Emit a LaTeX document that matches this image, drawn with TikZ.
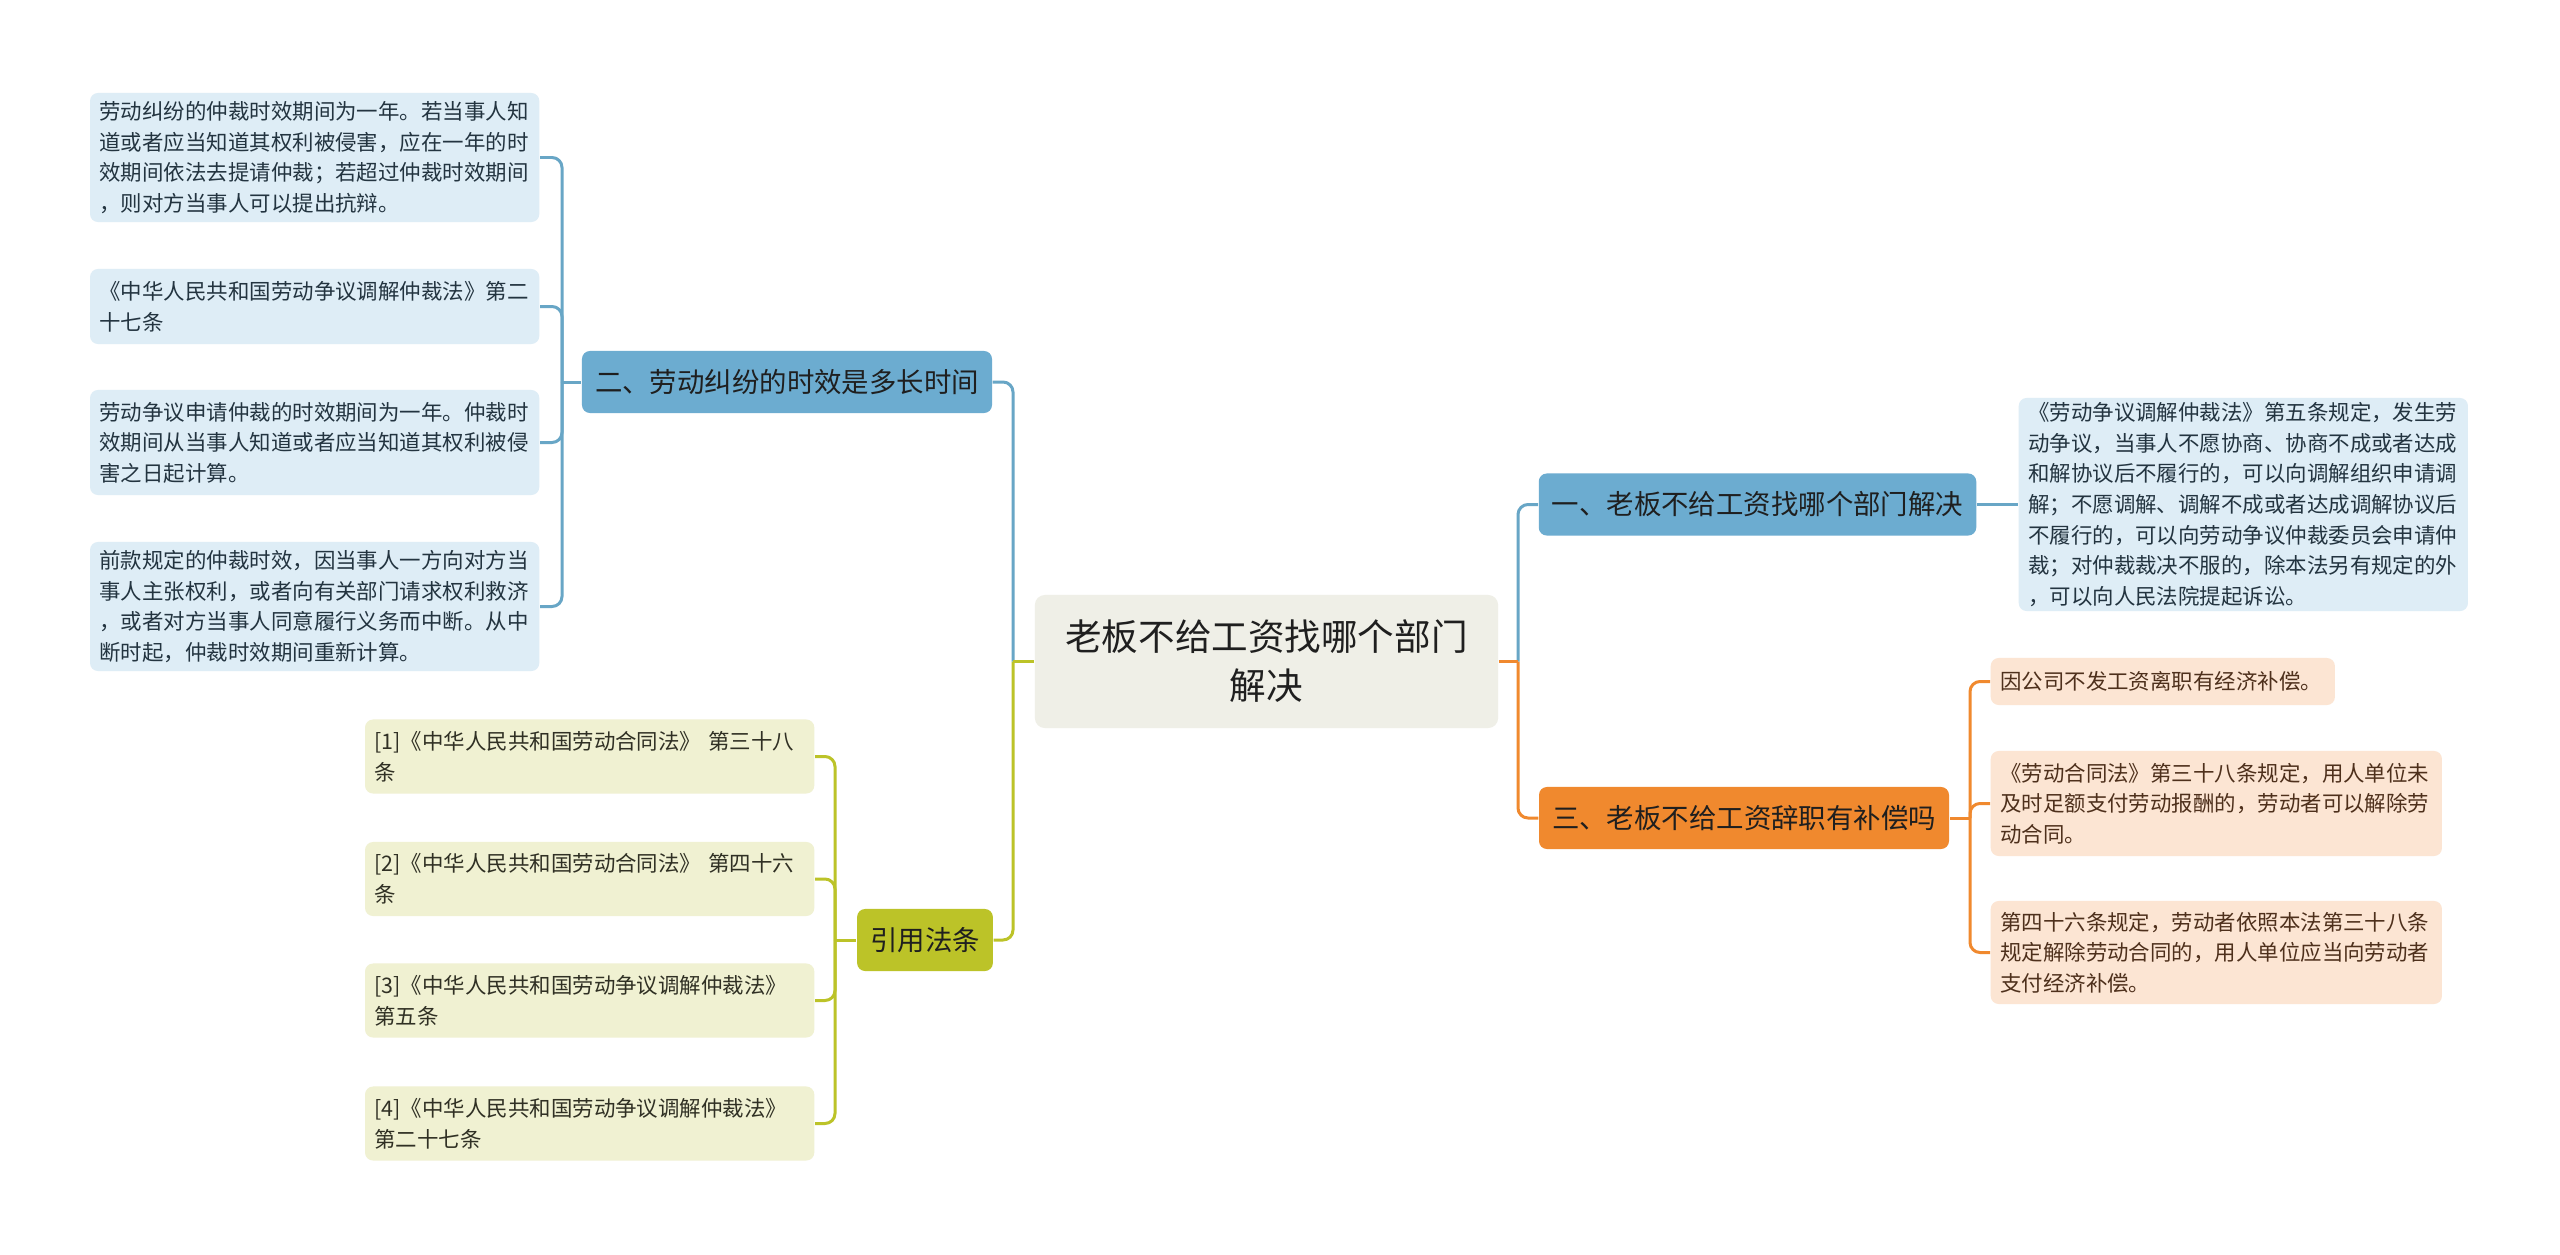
\documentclass[tikz,border=0pt]{standalone}
\usepackage{fontspec}
\setmainfont{Noto Sans CJK SC}
\usetikzlibrary{positioning}
\definecolor{mmroot}{RGB}{239,239,231}
\definecolor{mmblue}{RGB}{108,172,208}
\definecolor{mmblueline}{RGB}{104,166,198}
\definecolor{mmbluelt}{RGB}{222,237,246}
\definecolor{mmbluetx}{RGB}{35,52,64}
\definecolor{mmgreen}{RGB}{188,195,40}
\definecolor{mmgreenlt}{RGB}{240,241,210}
\definecolor{mmgreentx}{RGB}{48,48,36}
\definecolor{mmorange}{RGB}{240,137,46}
\definecolor{mmorangelt}{RGB}{252,229,211}
\definecolor{mmorangetx}{RGB}{78,48,28}

\begin{document}
\begin{tikzpicture}[x=0.01cm,y=-0.01cm,
    root/.style={fill=mmroot,rounded corners=0.1cm,align=center,text=black!88,
      font=\fontsize{10.4}{13.9}\selectfont,minimum width=4.63cm,minimum height=1.33cm},
    br/.style={rounded corners=0.08cm,text=black!88,font=\fontsize{7.8}{9}\selectfont,
      minimum height=0.62cm,inner xsep=0.13cm,inner ysep=0},
    leaf/.style={rounded corners=0.08cm,align=left,font=\fontsize{6.1}{8.7}\selectfont,
      text width=4.3cm,inner xsep=0.095cm,inner ysep=0},
    ln/.style={line width=0.85pt,rounded corners=0.1cm}]
  \path[use as bounding box,fill=white] (0,0) rectangle (2560,1254);

  % centre
  \node[root] (root) at (1266.5,661.5) {老板不给工资找哪个部门\\解决};

  % left: time limits
  \node[br,fill=mmblue] (time) at (787,382) {二、劳动纠纷的时效是多长时间};
  \node[leaf,fill=mmbluelt,text=mmbluetx,anchor=east,minimum height=1.29cm] (t1) at (540,157.5)
    {劳动纠纷的仲裁时效期间为一年。若当事人知\\道或者应当知道其权利被侵害，应在一年的时\\效期间依法去提请仲裁；若超过仲裁时效期间\\，则对方当事人可以提出抗辩。};
  \node[leaf,fill=mmbluelt,text=mmbluetx,anchor=east,minimum height=0.75cm] (t2) at (540,306.5)
    {《中华人民共和国劳动争议调解仲裁法》第二\\十七条};
  \node[leaf,fill=mmbluelt,text=mmbluetx,anchor=east,minimum height=1.05cm] (t3) at (540,442.5)
    {劳动争议申请仲裁的时效期间为一年。仲裁时\\效期间从当事人知道或者应当知道其权利被侵\\害之日起计算。};
  \node[leaf,fill=mmbluelt,text=mmbluetx,anchor=east,minimum height=1.29cm] (t4) at (540,606.5)
    {前款规定的仲裁时效，因当事人一方向对方当\\事人主张权利，或者向有关部门请求权利救济\\，或者对方当事人同意履行义务而中断。从中\\断时起，仲裁时效期间重新计算。};

  % left: cited articles
  \node[br,fill=mmgreen] (cite) at (925,940) {引用法条};
  \node[leaf,fill=mmgreenlt,text=mmgreentx,anchor=east,minimum height=0.74cm] (c1) at (815,756.5)
    {[1]《中华人民共和国劳动合同法》 第三十八\\条};
  \node[leaf,fill=mmgreenlt,text=mmgreentx,anchor=east,minimum height=0.74cm] (c2) at (815,879)
    {[2]《中华人民共和国劳动合同法》 第四十六\\条};
  \node[leaf,fill=mmgreenlt,text=mmgreentx,anchor=east,minimum height=0.74cm] (c3) at (815,1000.5)
    {[3]《中华人民共和国劳动争议调解仲裁法》\\第五条};
  \node[leaf,fill=mmgreenlt,text=mmgreentx,anchor=east,minimum height=0.74cm] (c4) at (815,1123.5)
    {[4]《中华人民共和国劳动争议调解仲裁法》\\第二十七条};

  % right: which department
  \node[br,fill=mmblue] (dept) at (1757.5,504.5) {一、老板不给工资找哪个部门解决};
  \node[leaf,fill=mmbluelt,text=mmbluetx,anchor=west,minimum height=2.13cm] (d1) at (2018,504.5)
    {《劳动争议调解仲裁法》第五条规定，发生劳\\动争议，当事人不愿协商、协商不成或者达成\\和解协议后不履行的，可以向调解组织申请调\\解；不愿调解、调解不成或者达成调解协议后\\不履行的，可以向劳动争议仲裁委员会申请仲\\裁；对仲裁裁决不服的，除本法另有规定的外\\，可以向人民法院提起诉讼。};

  % right: compensation
  \node[br,fill=mmorange] (comp) at (1744,818) {三、老板不给工资辞职有补偿吗};
  \node[leaf,fill=mmorangelt,text=mmorangetx,anchor=west,text width=3.25cm,minimum height=0.47cm] (o1) at (1990,681.5)
    {因公司不发工资离职有经济补偿。};
  \node[leaf,fill=mmorangelt,text=mmorangetx,anchor=west,text width=4.32cm,minimum height=1.05cm] (o2) at (1990,803.5)
    {《劳动合同法》第三十八条规定，用人单位未\\及时足额支付劳动报酬的，劳动者可以解除劳\\动合同。};
  \node[leaf,fill=mmorangelt,text=mmorangetx,anchor=west,text width=4.32cm,minimum height=1.03cm] (o3) at (1990,952.5)
    {第四十六条规定，劳动者依照本法第三十八条\\规定解除劳动合同的，用人单位应当向劳动者\\支付经济补偿。};

  % junctions
  \coordinate (jl) at (1013,661.5);
  \coordinate (jr) at (1518,661.5);
  \coordinate (jt) at (562,382);
  \coordinate (jc) at (835,940);
  \coordinate (jo) at (1970,818);

  % connectors
  \draw[ln,mmblueline] (time.east) -| (jl);
  \draw[ln,mmgreen] (cite.east) -| (jl);
  \draw[ln,mmgreen] (root.west) -- (jl);
  \draw[ln,mmblueline] (dept.west) -| (jr);
  \draw[ln,mmorange] (comp.west) -| (jr);
  \draw[ln,mmorange] (root.east) -- (jr);
  \foreach \n in {t1,t2,t3,t4} \draw[ln,mmblueline] (\n.east) -| (jt);
  \draw[ln,mmblueline] (jt) -- (time.west);
  \foreach \n in {c1,c2,c3,c4} \draw[ln,mmgreen] (\n.east) -| (jc);
  \draw[ln,mmgreen] (jc) -- (cite.west);
  \draw[ln,mmblueline] (dept.east) -- (d1.west);
  \foreach \n in {o1,o2,o3} \draw[ln,mmorange] (\n.west) -| (jo);
  \draw[ln,mmorange] (jo) -- (comp.east);
\end{tikzpicture}
\end{document}
